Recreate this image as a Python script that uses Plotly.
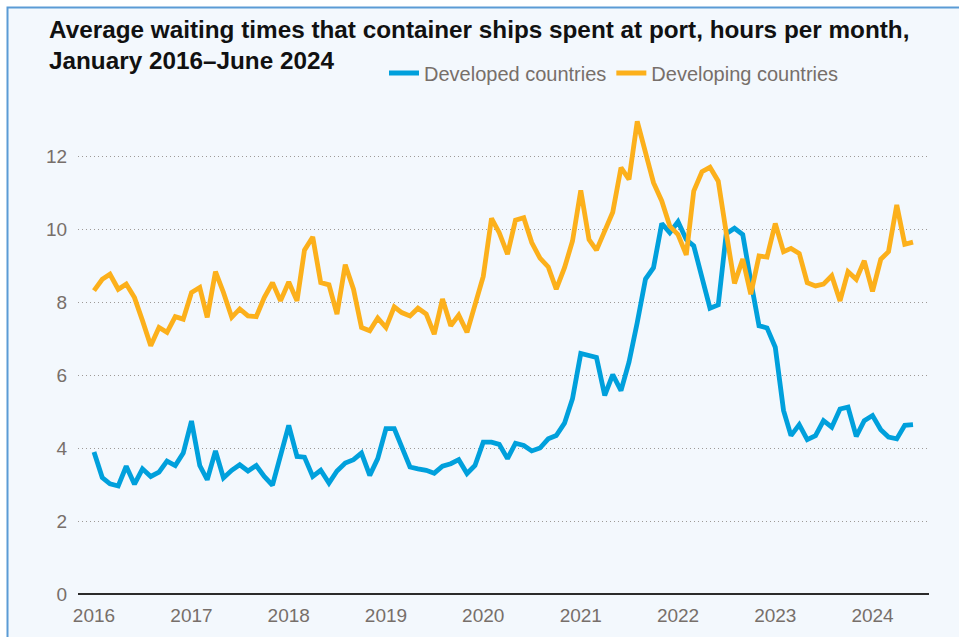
import plotly.graph_objects as go

# ---- data ----
months = [f"{y}-{m:02d}-01" for y in range(2016, 2025) for m in range(1, 13)][:102]

developed = [
    3.89, 3.19, 3.02, 2.96, 3.50, 3.01, 3.43, 3.22, 3.34, 3.64, 3.52, 3.86,
    4.74, 3.52, 3.13, 3.92, 3.18, 3.39, 3.54, 3.37, 3.52, 3.22, 2.98, 3.80,
    4.62, 3.77, 3.75, 3.22, 3.39, 3.04, 3.37, 3.59, 3.68, 3.86, 3.25, 3.71,
    4.53, 4.53, 4.07, 3.48, 3.43, 3.39, 3.31, 3.50, 3.57, 3.68, 3.30, 3.52,
    4.16, 4.16, 4.10, 3.71, 4.13, 4.07, 3.92, 4.00, 4.25, 4.34, 4.68, 5.35,
    6.59, 6.53, 6.48, 5.44, 6.01, 5.57, 6.35, 7.44, 8.63, 8.94, 10.15, 9.90,
    10.20, 9.71, 9.54, 8.67, 7.83, 7.92, 9.87, 10.02, 9.85, 8.58, 7.35, 7.29,
    6.76, 5.03, 4.34, 4.64, 4.23, 4.34, 4.75, 4.57, 5.07, 5.12, 4.32, 4.75,
    4.89, 4.50, 4.30, 4.25, 4.62, 4.64,
]

developing = [
    8.31, 8.62, 8.76, 8.35, 8.49, 8.12, 7.49, 6.80, 7.30, 7.17, 7.60, 7.53,
    8.26, 8.40, 7.58, 8.83, 8.26, 7.58, 7.81, 7.62, 7.60, 8.12, 8.53, 8.03,
    8.55, 8.03, 9.42, 9.78, 8.53, 8.47, 7.67, 9.02, 8.35, 7.30, 7.21, 7.56,
    7.30, 7.87, 7.71, 7.62, 7.83, 7.67, 7.12, 8.08, 7.35, 7.64, 7.17, 7.94,
    8.70, 10.29, 9.90, 9.31, 10.24, 10.31, 9.63, 9.20, 8.96, 8.35, 8.94, 9.67,
    11.06, 9.71, 9.42, 9.95, 10.46, 11.68, 11.36, 12.95, 12.13, 11.27, 10.77, 10.08,
    9.85, 9.29, 11.04, 11.57, 11.69, 11.31, 9.90, 8.51, 9.18, 8.21, 9.26, 9.23,
    10.15, 9.38, 9.47, 9.33, 8.53, 8.44, 8.49, 8.72, 8.03, 8.83, 8.62, 9.13,
    8.29, 9.17, 9.38, 10.66, 9.58, 9.64,
]

year_ticks = [f"{y}-01-01" for y in range(2016, 2025)]
year_labels = [str(y) for y in range(2016, 2025)]
y_ticks = [0, 2, 4, 6, 8, 10, 12]

title_line1 = "Average waiting times that container ships spent at port, hours per month,"
title_line2 = "January 2016\u2013June 2024"

# ---- layout constants ----
W, H = 959, 637
ML, MR, MT, MB = 78, 30, 108, 43
PW, PH = W - ML - MR, H - MT - MB

def px_x(px):
    return (px - ML) / PW

def px_y(py):
    return (H - MB - py) / PH

SANS = "Liberation Sans, Arial, Helvetica, sans-serif"
GRAY = "#776f6a"
BLUE = "#00a0dc"
ORANGE = "#fcb01b"

fig = go.Figure()
fig.add_trace(go.Scatter(x=months, y=developed, mode="lines", name="Developed countries",
                         line=dict(color=BLUE, width=4.8)))
fig.add_trace(go.Scatter(x=months, y=developing, mode="lines", name="Developing countries",
                         line=dict(color=ORANGE, width=4.8)))

fig.update_layout(
    width=W, height=H,
    margin=dict(l=ML, r=MR, t=MT, b=MB, pad=0),
    paper_bgcolor="white",
    plot_bgcolor="rgba(0,0,0,0)",
    showlegend=True,
    legend=dict(orientation="h", x=px_x(384), xanchor="left", y=px_y(73), yanchor="middle",
                font=dict(family=SANS, size=20, color=GRAY), bgcolor="rgba(0,0,0,0)",
                itemwidth=30, traceorder="normal"),
    xaxis=dict(type="date", range=["2015-11-02", "2024-07-31"],
               tickvals=year_ticks, ticktext=year_labels,
               ticks="outside", ticklen=4, tickcolor="rgba(0,0,0,0)",
               tickfont=dict(family=SANS, size=19, color=GRAY),
               showgrid=False, showline=False, zeroline=False),
    yaxis=dict(range=[0, PH / 36.5], tickvals=y_ticks,
               ticks="outside", ticklen=6, tickcolor="rgba(0,0,0,0)",
               tickfont=dict(family=SANS, size=19, color=GRAY),
               showgrid=True, gridcolor="#9e9a97", gridwidth=1, griddash="1px,3px",
               zeroline=True, zerolinecolor="#2b2b2b", zerolinewidth=2,
               showline=False),
    shapes=[
        dict(type="rect", xref="paper", yref="paper", layer="below",
             x0=px_x(7.5), x1=px_x(W + 10), y0=px_y(H + 10), y1=px_y(7.5),
             fillcolor="#f3f8fd", line=dict(color="#5b9bd5", width=2)),
    ],
    annotations=[
        dict(text=f"<b>{title_line1}</b>", xref="paper", yref="paper",
             x=px_x(47), y=px_y(30), xanchor="left", yanchor="middle", showarrow=False,
             font=dict(family=SANS, size=24.3, color="#111111")),
        dict(text=f"<b>{title_line2}</b>", xref="paper", yref="paper",
             x=px_x(47), y=px_y(61), xanchor="left", yanchor="middle", showarrow=False,
             font=dict(family=SANS, size=24.3, color="#111111")),
    ],
)

fig.write_html(
    "out.html",
    config={"displayModeBar": False},
    post_script="document.body.style.margin='0';document.body.style.overflow='hidden';",
)
